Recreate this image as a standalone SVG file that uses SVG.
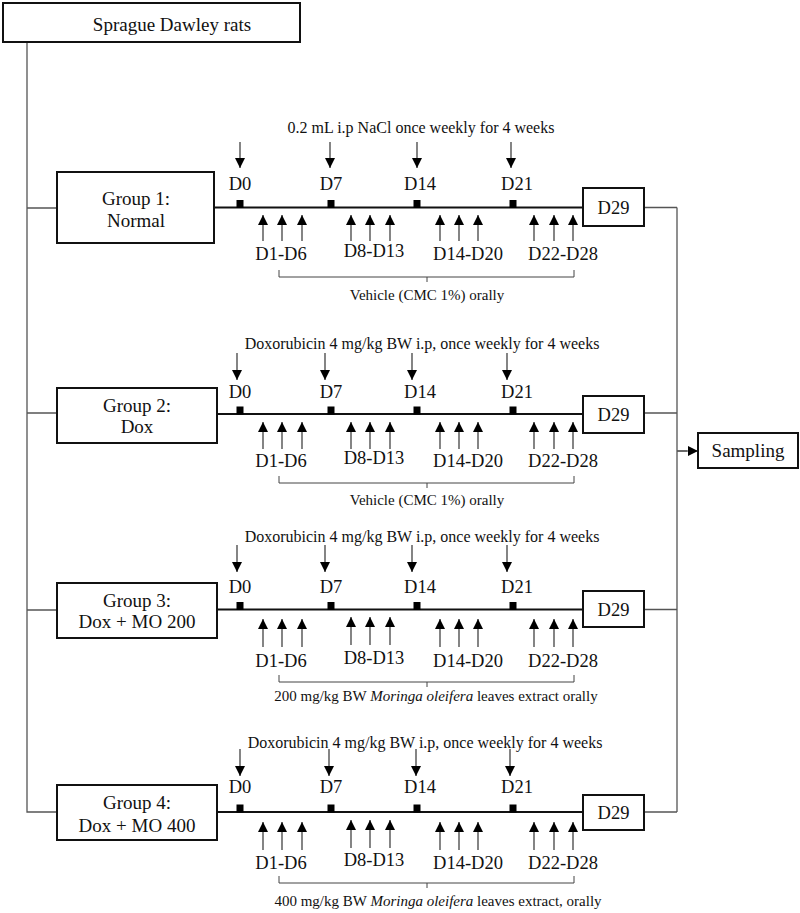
<svg xmlns="http://www.w3.org/2000/svg" width="800" height="913" viewBox="0 0 800 913">
<defs>
<marker id="ah" markerUnits="userSpaceOnUse" markerWidth="10" markerHeight="10" viewBox="0 0 10 10" refX="10" refY="5" orient="auto">
<path d="M0,0 L10,5 L0,10 Z" fill="#000"/>
</marker>
</defs>
<style>
text{font-family:"Liberation Serif","Times New Roman",serif;fill:#111;text-anchor:middle}
.box{fill:#fff;stroke:#111;stroke-width:2}
.conn{fill:none;stroke:#555;stroke-width:1.3}
.tl{stroke:#111;stroke-width:2.2}
.arr{stroke:#333;stroke-width:1.2;marker-end:url(#ah)}
.br{fill:none;stroke:#444;stroke-width:1}
.sq{fill:#000}
.f19{font-size:19px}
.f18{font-size:18.5px}
.f16{font-size:16px}
.f15{font-size:15px}
.it{font-style:italic}
</style>
<rect width="800" height="913" fill="#fff"/>

<g id="connectors">
<path class="conn" d="M27,42 V812 H57"/>
<path class="conn" d="M27,208 H57 M27,413 H57 M27,610 H57"/>
<path class="conn" d="M644,207.5 H677 M644,413 H677 M644,609.5 H677 M644,812 H677 M677,207.5 V812"/>
<line class="conn" x1="677" y1="451" x2="687" y2="451"/>
<line x1="677" y1="451" x2="698" y2="451" stroke="#555" stroke-width="1.3" marker-end="url(#ah)"/>
</g>

<g id="rats">
<rect class="box" x="3" y="3" width="297" height="39"/>
<text class="f19" x="172" y="31">Sprague Dawley rats</text>
</g>

<g id="sampling">
<rect class="box" x="698" y="433" width="100" height="35"/>
<text class="f19" x="748" y="457">Sampling</text>
</g>

<!-- Group 1 -->
<g id="group1">
<rect class="box" x="57" y="172" width="157" height="71"/>
<text class="f19" x="136" y="205">Group 1:</text>
<text class="f19" x="136" y="227">Normal</text>
</g>
<g id="timeline1">
<line class="tl" x1="214" y1="207.5" x2="583" y2="207.5"/>
<text class="f16" x="421" y="133">0.2 mL i.p NaCl once weekly for 4 weeks</text>
<line class="arr" x1="240" y1="142" x2="240" y2="168"/>
<line class="arr" x1="330" y1="142" x2="330" y2="168"/>
<line class="arr" x1="417" y1="142" x2="417" y2="168"/>
<line class="arr" x1="511" y1="142" x2="511" y2="168"/>
<text class="f18" x="240" y="190">D0</text>
<text class="f18" x="331" y="190">D7</text>
<text class="f18" x="420" y="190">D14</text>
<text class="f18" x="517" y="190">D21</text>
<rect class="sq" x="236.5" y="200" width="7" height="8"/>
<rect class="sq" x="327.5" y="200" width="7" height="8"/>
<rect class="sq" x="413.5" y="200" width="7" height="8"/>
<rect class="sq" x="509.5" y="200" width="7" height="8"/>
<g>
<line class="arr" x1="263" y1="241" x2="263" y2="215"/>
<line class="arr" x1="282" y1="241" x2="282" y2="215"/>
<line class="arr" x1="302" y1="241" x2="302" y2="215"/>
<line class="arr" x1="351" y1="241" x2="351" y2="215"/>
<line class="arr" x1="370" y1="241" x2="370" y2="215"/>
<line class="arr" x1="390" y1="241" x2="390" y2="215"/>
<line class="arr" x1="440" y1="241" x2="440" y2="215"/>
<line class="arr" x1="459" y1="241" x2="459" y2="215"/>
<line class="arr" x1="478" y1="241" x2="478" y2="215"/>
<line class="arr" x1="534" y1="241" x2="534" y2="215"/>
<line class="arr" x1="554" y1="241" x2="554" y2="215"/>
<line class="arr" x1="573" y1="241" x2="573" y2="215"/>
</g>
<text class="f18" x="281" y="260">D1-D6</text>
<text class="f18" x="374" y="257">D8-D13</text>
<text class="f18" x="468" y="260">D14-D20</text>
<text class="f18" x="563" y="260">D22-D28</text>
<path class="br" d="M279,270 V277 H574 V270 M427,277 V282"/>
<text class="f15" x="427" y="300">Vehicle (CMC 1%) orally</text>
<rect class="box" x="583" y="188" width="61" height="38"/>
<text class="f18" x="613.5" y="214">D29</text>
</g>

<!-- Group 2 -->
<g id="group2">
<rect class="box" x="57" y="388" width="160" height="55"/>
<text class="f19" x="137" y="412">Group 2:</text>
<text class="f19" x="137" y="433">Dox</text>
</g>
<g id="timeline2">
<line class="tl" x1="217" y1="414" x2="583" y2="414"/>
<text class="f16" x="422" y="349">Doxorubicin 4 mg/kg BW i.p, once weekly for 4 weeks</text>
<line class="arr" x1="237" y1="353" x2="237" y2="380"/>
<line class="arr" x1="325" y1="353" x2="325" y2="380"/>
<line class="arr" x1="412" y1="353" x2="412" y2="380"/>
<line class="arr" x1="507" y1="353" x2="507" y2="380"/>
<text class="f18" x="240" y="398">D0</text>
<text class="f18" x="331" y="398">D7</text>
<text class="f18" x="420" y="398">D14</text>
<text class="f18" x="517" y="398">D21</text>
<rect class="sq" x="236.5" y="406.5" width="7" height="8"/>
<rect class="sq" x="327.5" y="406.5" width="7" height="8"/>
<rect class="sq" x="413.5" y="406.5" width="7" height="8"/>
<rect class="sq" x="509.5" y="406.5" width="7" height="8"/>
<g>
<line class="arr" x1="263" y1="449" x2="263" y2="422"/>
<line class="arr" x1="282" y1="449" x2="282" y2="422"/>
<line class="arr" x1="302" y1="449" x2="302" y2="422"/>
<line class="arr" x1="351" y1="449" x2="351" y2="422"/>
<line class="arr" x1="370" y1="449" x2="370" y2="422"/>
<line class="arr" x1="390" y1="449" x2="390" y2="422"/>
<line class="arr" x1="440" y1="449" x2="440" y2="422"/>
<line class="arr" x1="459" y1="449" x2="459" y2="422"/>
<line class="arr" x1="478" y1="449" x2="478" y2="422"/>
<line class="arr" x1="534" y1="449" x2="534" y2="422"/>
<line class="arr" x1="554" y1="449" x2="554" y2="422"/>
<line class="arr" x1="573" y1="449" x2="573" y2="422"/>
</g>
<text class="f18" x="281" y="467">D1-D6</text>
<text class="f18" x="374" y="464">D8-D13</text>
<text class="f18" x="468" y="467">D14-D20</text>
<text class="f18" x="563" y="467">D22-D28</text>
<path class="br" d="M279,476 V483 H574 V476 M427,483 V488"/>
<text class="f15" x="427" y="505">Vehicle (CMC 1%) orally</text>
<rect class="box" x="583" y="396" width="61" height="37"/>
<text class="f18" x="613.5" y="421">D29</text>
</g>

<!-- Group 3 -->
<g id="group3">
<rect class="box" x="57" y="583" width="160" height="55"/>
<text class="f19" x="137" y="607">Group 3:</text>
<text class="f19" x="137" y="628">Dox + MO 200</text>
</g>
<g id="timeline3">
<line class="tl" x1="217" y1="609.5" x2="583" y2="609.5"/>
<text class="f16" x="422" y="542">Doxorubicin 4 mg/kg BW i.p, once weekly for 4 weeks</text>
<line class="arr" x1="237" y1="545" x2="237" y2="572"/>
<line class="arr" x1="325" y1="545" x2="325" y2="572"/>
<line class="arr" x1="412" y1="545" x2="412" y2="572"/>
<line class="arr" x1="507" y1="545" x2="507" y2="572"/>
<text class="f18" x="240" y="593">D0</text>
<text class="f18" x="331" y="593">D7</text>
<text class="f18" x="420" y="593">D14</text>
<text class="f18" x="517" y="593">D21</text>
<rect class="sq" x="236.5" y="602" width="7" height="8"/>
<rect class="sq" x="327.5" y="602" width="7" height="8"/>
<rect class="sq" x="413.5" y="602" width="7" height="8"/>
<rect class="sq" x="509.5" y="602" width="7" height="8"/>
<g>
<line class="arr" x1="263" y1="647" x2="263" y2="619"/>
<line class="arr" x1="282" y1="647" x2="282" y2="619"/>
<line class="arr" x1="302" y1="647" x2="302" y2="619"/>
<line class="arr" x1="351" y1="645" x2="351" y2="617"/>
<line class="arr" x1="370" y1="645" x2="370" y2="617"/>
<line class="arr" x1="390" y1="645" x2="390" y2="617"/>
<line class="arr" x1="440" y1="647" x2="440" y2="619"/>
<line class="arr" x1="459" y1="647" x2="459" y2="619"/>
<line class="arr" x1="478" y1="647" x2="478" y2="619"/>
<line class="arr" x1="534" y1="647" x2="534" y2="619"/>
<line class="arr" x1="554" y1="647" x2="554" y2="619"/>
<line class="arr" x1="573" y1="647" x2="573" y2="619"/>
</g>
<text class="f18" x="281" y="667">D1-D6</text>
<text class="f18" x="374" y="664">D8-D13</text>
<text class="f18" x="468" y="667">D14-D20</text>
<text class="f18" x="563" y="667">D22-D28</text>
<path class="br" d="M279,675 V682 H574 V675 M427,682 V687"/>
<text class="f15" x="436" y="701">200 mg/kg BW <tspan class="it">Moringa oleifera</tspan> leaves extract orally</text>
<rect class="box" x="583" y="591" width="61" height="36"/>
<text class="f18" x="613.5" y="616">D29</text>
</g>

<!-- Group 4 -->
<g id="group4">
<rect class="box" x="57" y="785" width="160" height="55"/>
<text class="f19" x="137" y="809">Group 4:</text>
<text class="f19" x="137" y="832">Dox + MO 400</text>
</g>
<g id="timeline4">
<line class="tl" x1="217" y1="812" x2="583" y2="812"/>
<text class="f16" x="425" y="748">Doxorubicin 4 mg/kg BW i.p, once weekly for 4 weeks</text>
<line class="arr" x1="240" y1="749" x2="240" y2="776"/>
<line class="arr" x1="329" y1="749" x2="329" y2="776"/>
<line class="arr" x1="416" y1="749" x2="416" y2="776"/>
<line class="arr" x1="510" y1="749" x2="510" y2="776"/>
<text class="f18" x="240" y="793">D0</text>
<text class="f18" x="331" y="793">D7</text>
<text class="f18" x="420" y="793">D14</text>
<text class="f18" x="517" y="793">D21</text>
<rect class="sq" x="236.5" y="804.5" width="7" height="8"/>
<rect class="sq" x="327.5" y="804.5" width="7" height="8"/>
<rect class="sq" x="413.5" y="804.5" width="7" height="8"/>
<rect class="sq" x="509.5" y="804.5" width="7" height="8"/>
<g>
<line class="arr" x1="263" y1="850" x2="263" y2="822"/>
<line class="arr" x1="282" y1="850" x2="282" y2="822"/>
<line class="arr" x1="302" y1="850" x2="302" y2="822"/>
<line class="arr" x1="351" y1="848" x2="351" y2="820"/>
<line class="arr" x1="370" y1="848" x2="370" y2="820"/>
<line class="arr" x1="390" y1="848" x2="390" y2="820"/>
<line class="arr" x1="440" y1="850" x2="440" y2="822"/>
<line class="arr" x1="459" y1="850" x2="459" y2="822"/>
<line class="arr" x1="478" y1="850" x2="478" y2="822"/>
<line class="arr" x1="534" y1="850" x2="534" y2="822"/>
<line class="arr" x1="554" y1="850" x2="554" y2="822"/>
<line class="arr" x1="573" y1="850" x2="573" y2="822"/>
</g>
<text class="f18" x="281" y="869">D1-D6</text>
<text class="f18" x="374" y="866">D8-D13</text>
<text class="f18" x="468" y="869">D14-D20</text>
<text class="f18" x="563" y="869">D22-D28</text>
<path class="br" d="M279,876 V883 H574 V876 M427,883 V888"/>
<text class="f15" x="438" y="906">400 mg/kg BW <tspan class="it">Moringa oleifera</tspan> leaves extract, orally</text>
<rect class="box" x="583" y="795" width="61" height="35"/>
<text class="f18" x="613.5" y="819">D29</text>
</g>
</svg>
